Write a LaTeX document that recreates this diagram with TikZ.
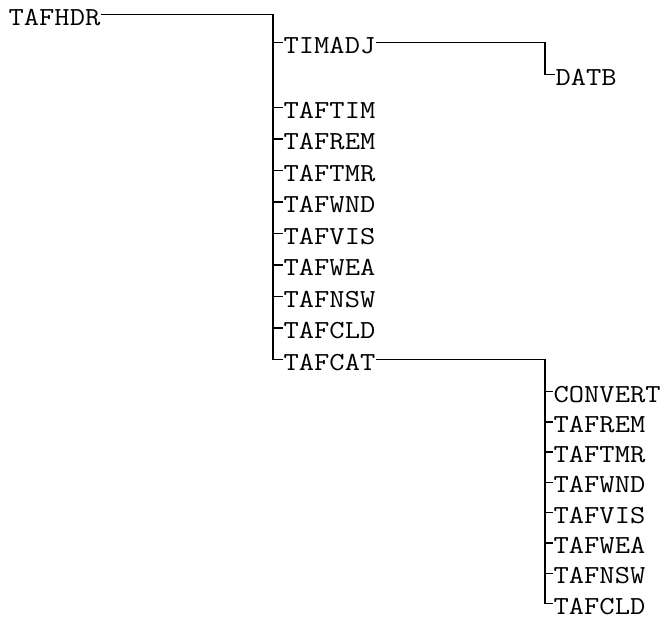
\documentclass[tikz,border=0pt]{standalone}
\usepackage{fontspec}
\setmonofont{Latin Modern Mono}[FakeStretch=1.14]
\usetikzlibrary{positioning}

\begin{document}
\begin{tikzpicture}[x=0.5pt,y=-0.5pt,line width=0.7pt]
                    \tikzstyle{every node}=[anchor=base west,inner sep=0pt,
                      font=\ttfamily\fontsize{13}{13}\selectfont,
                      text height=10.5pt,text depth=0pt]
                    \useasboundingbox (0,0) rectangle (666,628);
                    \node (hdr) at (8,25) {TAFHDR};
                    \node (timadj) at (283,53) {TIMADJ};
                    \node (datb) at (555,85) {DATB};
                    \foreach \name [count=\i] in {TAFTIM,TAFREM,TAFTMR,TAFWND,TAFVIS,TAFWEA,TAFNSW,TAFCLD,TAFCAT}
                      \node (sub\i) at (283,{118+31.5*(\i-1)}) {\name};
                    \foreach \name [count=\i] in {CONVERT,TAFREM,TAFTMR,TAFWND,TAFVIS,TAFWEA,TAFNSW,TAFCLD}
                      \node (cat\i) at (553,{402+30.3*(\i-1)}) {\name};
                    % buses
                    \coordinate (bus1) at ([xshift=-5pt]sub9.west);
                    \coordinate (bus2) at ([xshift=-4pt]cat8.west);
                    \draw (hdr.east) -| (bus1) -- (sub9.west);
                    \draw (bus1 |- timadj.west) -- (timadj.west);
                    \foreach \i in {1,...,8}
                      \draw (bus1 |- sub\i.west) -- (sub\i.west);
                    \draw (timadj.east) -| ([xshift=-5pt]datb.west) -- (datb.west);
                    \draw (sub9.east) -| (bus2) -- (cat8.west);
                    \foreach \i in {1,...,7}
                      \draw (bus2 |- cat\i.west) -- (cat\i.west);
                \end{tikzpicture}
\end{document}
